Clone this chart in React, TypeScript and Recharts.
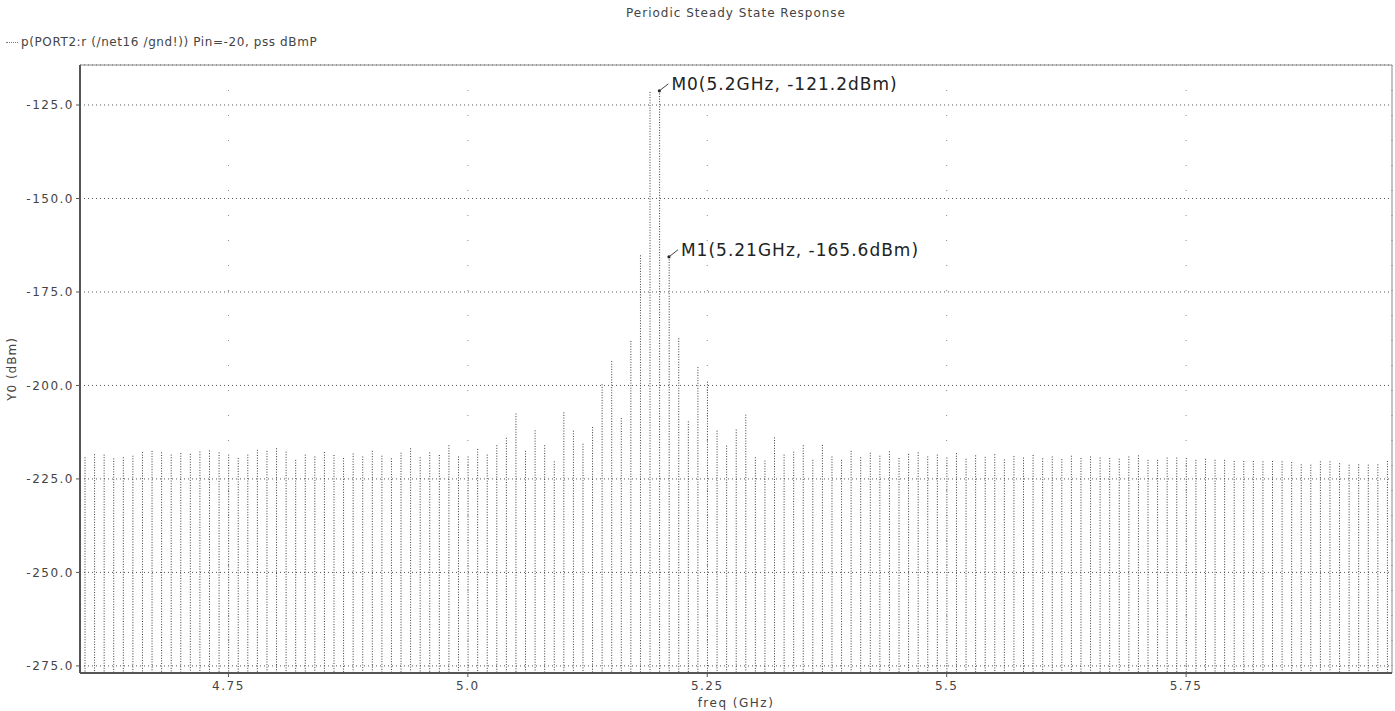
import { ComposedChart, Bar, XAxis, YAxis, CartesianGrid, ReferenceDot, ReferenceLine, Label } from 'recharts'

// PSS harmonics, 10 MHz apart
const FREQ_GHZ = [
  4.60, 4.61, 4.62, 4.63, 4.64, 4.65, 4.66, 4.67, 4.68, 4.69,
  4.70, 4.71, 4.72, 4.73, 4.74, 4.75, 4.76, 4.77, 4.78, 4.79,
  4.80, 4.81, 4.82, 4.83, 4.84, 4.85, 4.86, 4.87, 4.88, 4.89,
  4.90, 4.91, 4.92, 4.93, 4.94, 4.95, 4.96, 4.97, 4.98, 4.99,
  5.00, 5.01, 5.02, 5.03, 5.04, 5.05, 5.06, 5.07, 5.08, 5.09,
  5.10, 5.11, 5.12, 5.13, 5.14, 5.15, 5.16, 5.17, 5.18, 5.19,
  5.20, 5.21, 5.22, 5.23, 5.24, 5.25, 5.26, 5.27, 5.28, 5.29,
  5.30, 5.31, 5.32, 5.33, 5.34, 5.35, 5.36, 5.37, 5.38, 5.39,
  5.40, 5.41, 5.42, 5.43, 5.44, 5.45, 5.46, 5.47, 5.48, 5.49,
  5.50, 5.51, 5.52, 5.53, 5.54, 5.55, 5.56, 5.57, 5.58, 5.59,
  5.60, 5.61, 5.62, 5.63, 5.64, 5.65, 5.66, 5.67, 5.68, 5.69,
  5.70, 5.71, 5.72, 5.73, 5.74, 5.75, 5.76, 5.77, 5.78, 5.79,
  5.80, 5.81, 5.82, 5.83, 5.84, 5.85, 5.86, 5.87, 5.88, 5.89,
  5.90, 5.91, 5.92, 5.93, 5.94, 5.95, 5.96,
]

const POWER_DBM = [
  -219.2, -218.4, -218.5, -219.5, -219.2, -218.8, -217.8, -217.5, -217.9, -218.5,
  -218.1, -218.3, -217.7, -217.4, -217.9, -218.5, -219.4, -218.5, -217.2, -217.5,
  -216.8, -217.7, -219.9, -218.5, -219.0, -217.8, -218.6, -219.4, -218.2, -219.0,
  -217.5, -218.8, -219.5, -218.0, -216.8, -219.2, -217.9, -218.6, -216.0, -219.0,
  -219.0, -217.0, -218.5, -216.0, -214.0, -207.5, -217.5, -212.0, -216.0, -220.3,
  -207.2, -212.1, -215.6, -211.1, -199.7, -193.5, -208.7, -188.1, -165.2, -121.5,
  -121.2, -165.6, -187.4, -209.6, -195.1, -199.0, -212.1, -216.1, -211.8, -207.8,
  -219.2, -220.1, -213.9, -218.5, -217.7, -216.0, -219.9, -215.9, -219.0, -219.9,
  -217.5, -219.2, -218.0, -218.8, -217.6, -219.4, -218.3, -217.9, -219.0, -218.5,
  -219.3, -218.1, -219.6, -218.7, -219.1, -218.4, -219.8, -218.9, -219.3, -218.6,
  -219.5, -219.0, -219.7, -218.8, -219.4, -219.0, -219.3, -219.4, -219.6, -219.0,
  -218.7, -219.9, -219.9, -219.3, -219.3, -219.4, -219.9, -219.6, -219.9, -219.9,
  -220.2, -220.2, -220.2, -220.3, -220.2, -220.3, -220.5, -221.1, -221.2, -220.3,
  -220.3, -220.8, -221.2, -221.1, -221.2, -221.1, -220.2,
]

const X_TICKS = [4.75, 5.0, 5.25, 5.5, 5.75]
const X_TICK_LABELS = ['4.75', '5.0', '5.25', '5.5', '5.75']
const Y_TICKS = [-275, -250, -225, -200, -175, -150, -125]
const MARKER_NAMES = ['M0', 'M1']
const MARKER_FREQS = [5.2, 5.21]

const X_DOMAIN: [number, number] = [4.595, 5.965]
const Y_DOMAIN: [number, number] = [-276.9, -114.3]

const FONT = '"DejaVu Sans", sans-serif'
const INK = '#3a3a3a'

const rows = FREQ_GHZ.map((f, i) => ({ f, span: [Y_DOMAIN[0], POWER_DBM[i]] }))

const markers = MARKER_NAMES.map((name, i) => {
  const f = MARKER_FREQS[i]
  const p = POWER_DBM[FREQ_GHZ.indexOf(f)]
  return { name, f, p, text: `${name}(${f}GHz, ${p.toFixed(1)}dBm)` }
})

// thin dotted stem from the noise floor up to the harmonic level
const Stem = (props: any) => {
  const { x, y, width, height } = props
  const cx = x + width / 2
  return (
    <line x1={cx} x2={cx} y1={y} y2={y + height}
      stroke={INK} strokeWidth={1} strokeDasharray="1 1.6" />
  )
}

const markerShape = (text: string) => (props: any) => {
  const { cx, cy } = props
  return (
    <g>
      <circle cx={cx} cy={cy} r={1.6} fill="#222" />
      <line x1={cx} y1={cy} x2={cx + 9} y2={cy - 7} stroke="#444" strokeWidth={1} />
      <text x={cx + 12} y={cy - 1} fontFamily={FONT} fontSize={17} letterSpacing={1} fill="#222">
        {text}
      </text>
    </g>
  )
}

const tickStyle = { fontFamily: FONT, fontSize: 12, fill: '#444', letterSpacing: 1.5 }

export default function App() {
  return (
    <div style={{ position: 'absolute', left: 0, top: 0, width: 1395, height: 711, background: '#fff', fontFamily: FONT }}>
      <div style={{ position: 'absolute', left: 0, width: 1472, top: 6, textAlign: 'center', fontSize: 12, letterSpacing: 1, color: '#444' }}>
        Periodic Steady State Response
      </div>
      <div style={{ position: 'absolute', left: 6, top: 35, fontSize: 12, letterSpacing: 0.6, color: '#444', whiteSpace: 'nowrap' }}>
        <span style={{ display: 'inline-block', width: 12, borderTop: '1px dotted #777', verticalAlign: 'middle', marginRight: 3 }} />
        p(PORT2:r (/net16 /gnd!)) Pin=-20, pss dBmP
      </div>
      <ComposedChart width={1395} height={711} data={rows}
        margin={{ top: 65, right: 3, bottom: 0, left: 0 }} barGap={0}>
        <CartesianGrid horizontal vertical={false} stroke="#555" strokeDasharray="1 3" />
        <CartesianGrid horizontal={false} vertical stroke="#888" strokeDasharray="1 24" />
        <XAxis dataKey="f" type="number" domain={X_DOMAIN} ticks={X_TICKS} allowDataOverflow
          tickFormatter={(v: number) => X_TICK_LABELS[X_TICKS.indexOf(v)]}
          height={38} tick={tickStyle} tickSize={4} tickMargin={4}
          axisLine={{ stroke: '#555', strokeWidth: 2 }} tickLine={{ stroke: '#555' }}>
          <Label value="freq (GHz)" position="insideBottom" offset={4}
            style={{ fontFamily: FONT, fontSize: 12, fill: '#444', letterSpacing: 1.5 }} />
        </XAxis>
        <YAxis type="number" domain={Y_DOMAIN} ticks={Y_TICKS} allowDataOverflow
          tickFormatter={(v: number) => v.toFixed(1)} width={80}
          tick={tickStyle} tickSize={4} tickMargin={2}
          axisLine={{ stroke: '#555', strokeWidth: 2 }} tickLine={{ stroke: '#555' }}>
          <Label value="Y0 (dBm)" angle={-90} position="insideLeft" offset={12}
            style={{ fontFamily: FONT, fontSize: 12, fill: '#444', letterSpacing: 1, textAnchor: 'middle' }} />
        </YAxis>
        <ReferenceLine y={Y_DOMAIN[1]} stroke="#888" />
        <ReferenceLine x={X_DOMAIN[1]} stroke="#888" />
        <Bar dataKey="span" barSize={2} shape={Stem} isAnimationActive={false} />
        {markers.map((m) => (
          <ReferenceDot key={m.name} x={m.f} y={m.p} r={2} shape={markerShape(m.text)} />
        ))}
      </ComposedChart>
    </div>
  )
}
